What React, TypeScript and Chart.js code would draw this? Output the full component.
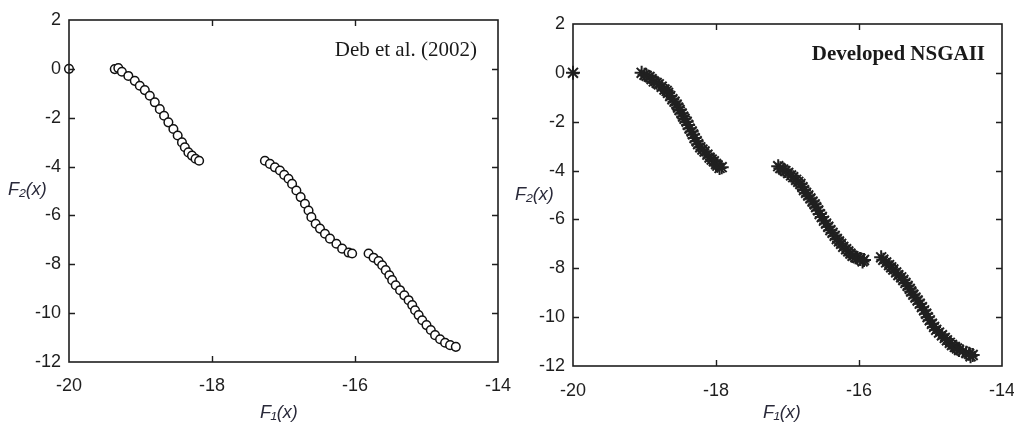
import React, { useEffect, useRef } from "react";
import { Chart, registerables } from "chart.js";

Chart.register(...registerables);

const xTicks = [-20, -18, -16, -14];
const yTicks = [2, 0, -2, -4, -6, -8, -10, -12];

// Deb et al. (2002) — open circles
const debF1 = [
  -20.0,
  -19.36, -19.31, -19.26, -19.17, -19.08, -19.01, -18.94, -18.87, -18.8, -18.73,
  -18.67, -18.61, -18.54, -18.48, -18.42, -18.38, -18.33, -18.28, -18.23, -18.18,
  -17.26, -17.19, -17.12, -17.05, -16.99, -16.93, -16.88, -16.82, -16.76, -16.7,
  -16.65, -16.61, -16.55, -16.49, -16.42, -16.35, -16.26, -16.18, -16.09, -16.04,
  -15.81, -15.74, -15.67, -15.62, -15.57, -15.52, -15.48, -15.43, -15.37, -15.31,
  -15.25, -15.2, -15.16, -15.11, -15.06, -15.0, -14.94, -14.88, -14.81, -14.74,
  -14.67, -14.59,
];
const debF2 = [
  0.0,
  -0.01, 0.03, -0.12, -0.29, -0.49, -0.69, -0.87, -1.1, -1.37, -1.65,
  -1.92, -2.19, -2.46, -2.73, -3.01, -3.21, -3.42, -3.55, -3.68, -3.76,
  -3.76, -3.89, -4.03, -4.16, -4.34, -4.5, -4.71, -4.98, -5.25, -5.52,
  -5.8, -6.07, -6.34, -6.54, -6.75, -6.95, -7.16, -7.36, -7.52, -7.56,
  -7.56, -7.73, -7.87, -8.04, -8.24, -8.45, -8.65, -8.86, -9.06, -9.27,
  -9.47, -9.67, -9.88, -10.08, -10.29, -10.49, -10.69, -10.9, -11.07, -11.21,
  -11.31, -11.38,
];

// Developed NSGAII — asterisks
const nsgaF1 = [
  -20.0,
  -19.04, -19.0, -18.97, -18.93, -18.9, -18.87, -18.83, -18.8, -18.76, -18.72,
  -18.69, -18.67, -18.64, -18.61, -18.58, -18.55, -18.53, -18.51, -18.48, -18.46,
  -18.44, -18.41, -18.39, -18.37, -18.34, -18.32, -18.3, -18.27, -18.25, -18.22,
  -18.19, -18.16, -18.12, -18.09, -18.06, -18.03, -18.0, -17.98, -17.95, -17.92,
  -17.13, -17.1, -17.06, -17.03, -16.99, -16.95, -16.92, -16.88, -16.85, -16.82,
  -16.79, -16.77, -16.74, -16.71, -16.68, -16.65, -16.62, -16.6, -16.57, -16.55,
  -16.52, -16.49, -16.46, -16.43, -16.4, -16.37, -16.34, -16.31, -16.28, -16.25,
  -16.22, -16.18, -16.15, -16.12, -16.09, -16.05, -16.02, -15.98, -15.95, -15.93,
  -15.69, -15.66, -15.62, -15.58, -15.55, -15.52, -15.48, -15.45, -15.41, -15.38,
  -15.35, -15.32, -15.29, -15.27, -15.24, -15.21, -15.18, -15.15, -15.12, -15.09,
  -15.06, -15.04, -15.01, -14.98, -14.95, -14.92, -14.88, -14.84, -14.8, -14.77,
  -14.73, -14.7, -14.66, -14.63, -14.6, -14.55, -14.5, -14.46, -14.44, -14.41,
];
const nsgaF2 = [
  0.0,
  0.0, -0.08, -0.12, -0.17, -0.26, -0.35, -0.41, -0.47, -0.57, -0.68,
  -0.74, -0.82, -0.95, -1.08, -1.18, -1.3, -1.42, -1.52, -1.66, -1.79,
  -1.88, -2.0, -2.13, -2.28, -2.4, -2.52, -2.67, -2.8, -2.92, -3.05,
  -3.14, -3.22, -3.35, -3.47, -3.55, -3.62, -3.73, -3.8, -3.89, -3.86,
  -3.82, -3.9, -3.96, -4.02, -4.1, -4.2, -4.27, -4.38, -4.46, -4.55,
  -4.68, -4.8, -4.91, -5.02, -5.14, -5.27, -5.38, -5.5, -5.63, -5.78,
  -5.9, -6.05, -6.17, -6.3, -6.44, -6.55, -6.67, -6.8, -6.9, -7.0,
  -7.12, -7.22, -7.31, -7.4, -7.49, -7.55, -7.58, -7.62, -7.72, -7.66,
  -7.55, -7.65, -7.76, -7.87, -7.96, -8.05, -8.17, -8.28, -8.37, -8.48,
  -8.6, -8.72, -8.84, -8.95, -9.08, -9.2, -9.32, -9.45, -9.59, -9.72,
  -9.86, -10.0, -10.13, -10.27, -10.4, -10.52, -10.63, -10.74, -10.85, -10.95,
  -11.05, -11.14, -11.22, -11.28, -11.35, -11.4, -11.46, -11.5, -11.6, -11.55,
];

type Geom = {
  left: number;
  width: number;
  padTop: number;
  padRight: number;
  yWidth: number;
  xHeight: number;
  xLabelPad: number;
  f2Title: [number, number];
  f1Title: [number, number];
  note: [number, number];
};

const TICK_FONT = { family: '"Liberation Sans", Arial, sans-serif', size: 18 };
const INK = "#1e1e1e";

function Panel(props: {
  f1: number[];
  f2: number[];
  star: boolean;
  note: string;
  noteBold: boolean;
  geom: Geom;
}) {
  const ref = useRef<HTMLCanvasElement>(null);
  useEffect(() => {
    const { f1, f2, star, note, noteBold, geom } = props;
    const pts = f1.map((x, i) => ({ x, y: f2[i] }));
    const deco = {
      id: "deco",
      afterDraw(chart: any) {
        const { ctx, chartArea: a, scales } = chart;
        const xs = scales.x;
        const ys = scales.y;
        ctx.save();
        ctx.strokeStyle = INK;
        ctx.lineWidth = 1.6;
        ctx.strokeRect(a.left, a.top, a.right - a.left, a.bottom - a.top);
        ctx.lineWidth = 1.4;
        ctx.beginPath();
        const xmin = xTicks[0];
        const xmax = xTicks[xTicks.length - 1];
        for (const v of xTicks) {
          if (v === xmin || v === xmax) continue;
          const px = Math.round(xs.getPixelForValue(v)) + 0.5;
          ctx.moveTo(px, a.bottom);
          ctx.lineTo(px, a.bottom - 6);
          ctx.moveTo(px, a.top);
          ctx.lineTo(px, a.top + 6);
        }
        const ymax = yTicks[0];
        const ymin = yTicks[yTicks.length - 1];
        for (const v of yTicks) {
          if (v === ymin || v === ymax) continue;
          const py = Math.round(ys.getPixelForValue(v)) + 0.5;
          ctx.moveTo(a.left, py);
          ctx.lineTo(a.left + 6, py);
          ctx.moveTo(a.right, py);
          ctx.lineTo(a.right - 6, py);
        }
        ctx.stroke();

        ctx.fillStyle = "#2a2a3a";
        ctx.textBaseline = "middle";
        ctx.textAlign = "left";
        ctx.font = 'italic 18px "Liberation Sans", "DejaVu Sans", sans-serif';
        ctx.fillText("F\u2082(x)", geom.f2Title[0], geom.f2Title[1]);
        ctx.fillText("F\u2081(x)", geom.f1Title[0], geom.f1Title[1]);

        ctx.fillStyle = "#1a1a1a";
        ctx.textAlign = "right";
        ctx.font = (noteBold ? "bold " : "") + '21px "Liberation Serif", "Times New Roman", serif';
        ctx.fillText(note, geom.note[0], geom.note[1]);
        ctx.restore();
      },
    };

    const chart = new Chart(ref.current as HTMLCanvasElement, {
      type: "scatter",
      data: {
        datasets: [
          {
            data: pts,
            clip: false as any,
            pointStyle: star ? "star" : "circle",
            pointRadius: star ? 7 : 4.3,
            borderWidth: star ? 2 : 1.5,
            borderColor: star ? "#202020" : "#111",
            backgroundColor: star ? "#202020" : "#ffffff",
          },
        ],
      },
      options: {
        responsive: false,
        animation: false,
        events: [],
        layout: {
          padding: { left: 0, top: geom.padTop, right: geom.padRight, bottom: 0 },
        },
        plugins: {
          legend: { display: false },
          tooltip: { enabled: false },
        },
        scales: {
          x: {
            type: "linear",
            min: xTicks[0],
            max: xTicks[xTicks.length - 1],
            border: { display: false },
            grid: { display: false, drawTicks: false },
            ticks: {
              stepSize: 2,
              padding: geom.xLabelPad,
              color: INK,
              font: TICK_FONT,
              maxRotation: 0,
            },
            afterFit: (s: any) => {
              s.height = geom.xHeight;
              s.paddingLeft = 0;
              s.paddingRight = 0;
            },
          },
          y: {
            type: "linear",
            min: yTicks[yTicks.length - 1],
            max: yTicks[0],
            border: { display: false },
            grid: { display: false, drawTicks: false },
            ticks: {
              stepSize: 2,
              padding: 8,
              color: INK,
              font: TICK_FONT,
            },
            afterFit: (s: any) => {
              s.width = geom.yWidth;
              s.paddingTop = 0;
              s.paddingBottom = 0;
            },
          },
        },
      },
      plugins: [deco],
    });
    return () => chart.destroy();
  }, []);

  return (
    <canvas
      ref={ref}
      width={props.geom.width}
      height={428}
      style={{ position: "absolute", left: props.geom.left, top: 0, width: props.geom.width, height: 428 }}
    />
  );
}

const leftGeom: Geom = {
  left: 0,
  width: 524,
  padTop: 20,
  padRight: 26,
  yWidth: 69,
  xHeight: 66,
  xLabelPad: 13,
  f2Title: [8, 190],
  f1Title: [260, 413],
  note: [477, 50],
};

const rightGeom: Geom = {
  left: 507,
  width: 507,
  padTop: 24,
  padRight: 12,
  yWidth: 66,
  xHeight: 62,
  xLabelPad: 14,
  f2Title: [8, 195],
  f1Title: [256, 413],
  note: [478, 55],
};

export default function App() {
  return (
    <div
      style={{
        position: "absolute",
        left: 0,
        top: 0,
        width: 1014,
        height: 428,
        background: "#ffffff",
        overflow: "hidden",
      }}
    >
      <Panel f1={debF1} f2={debF2} star={false} note="Deb et al. (2002)" noteBold={false} geom={leftGeom} />
      <Panel f1={nsgaF1} f2={nsgaF2} star={true} note="Developed NSGAII" noteBold={true} geom={rightGeom} />
    </div>
  );
}
